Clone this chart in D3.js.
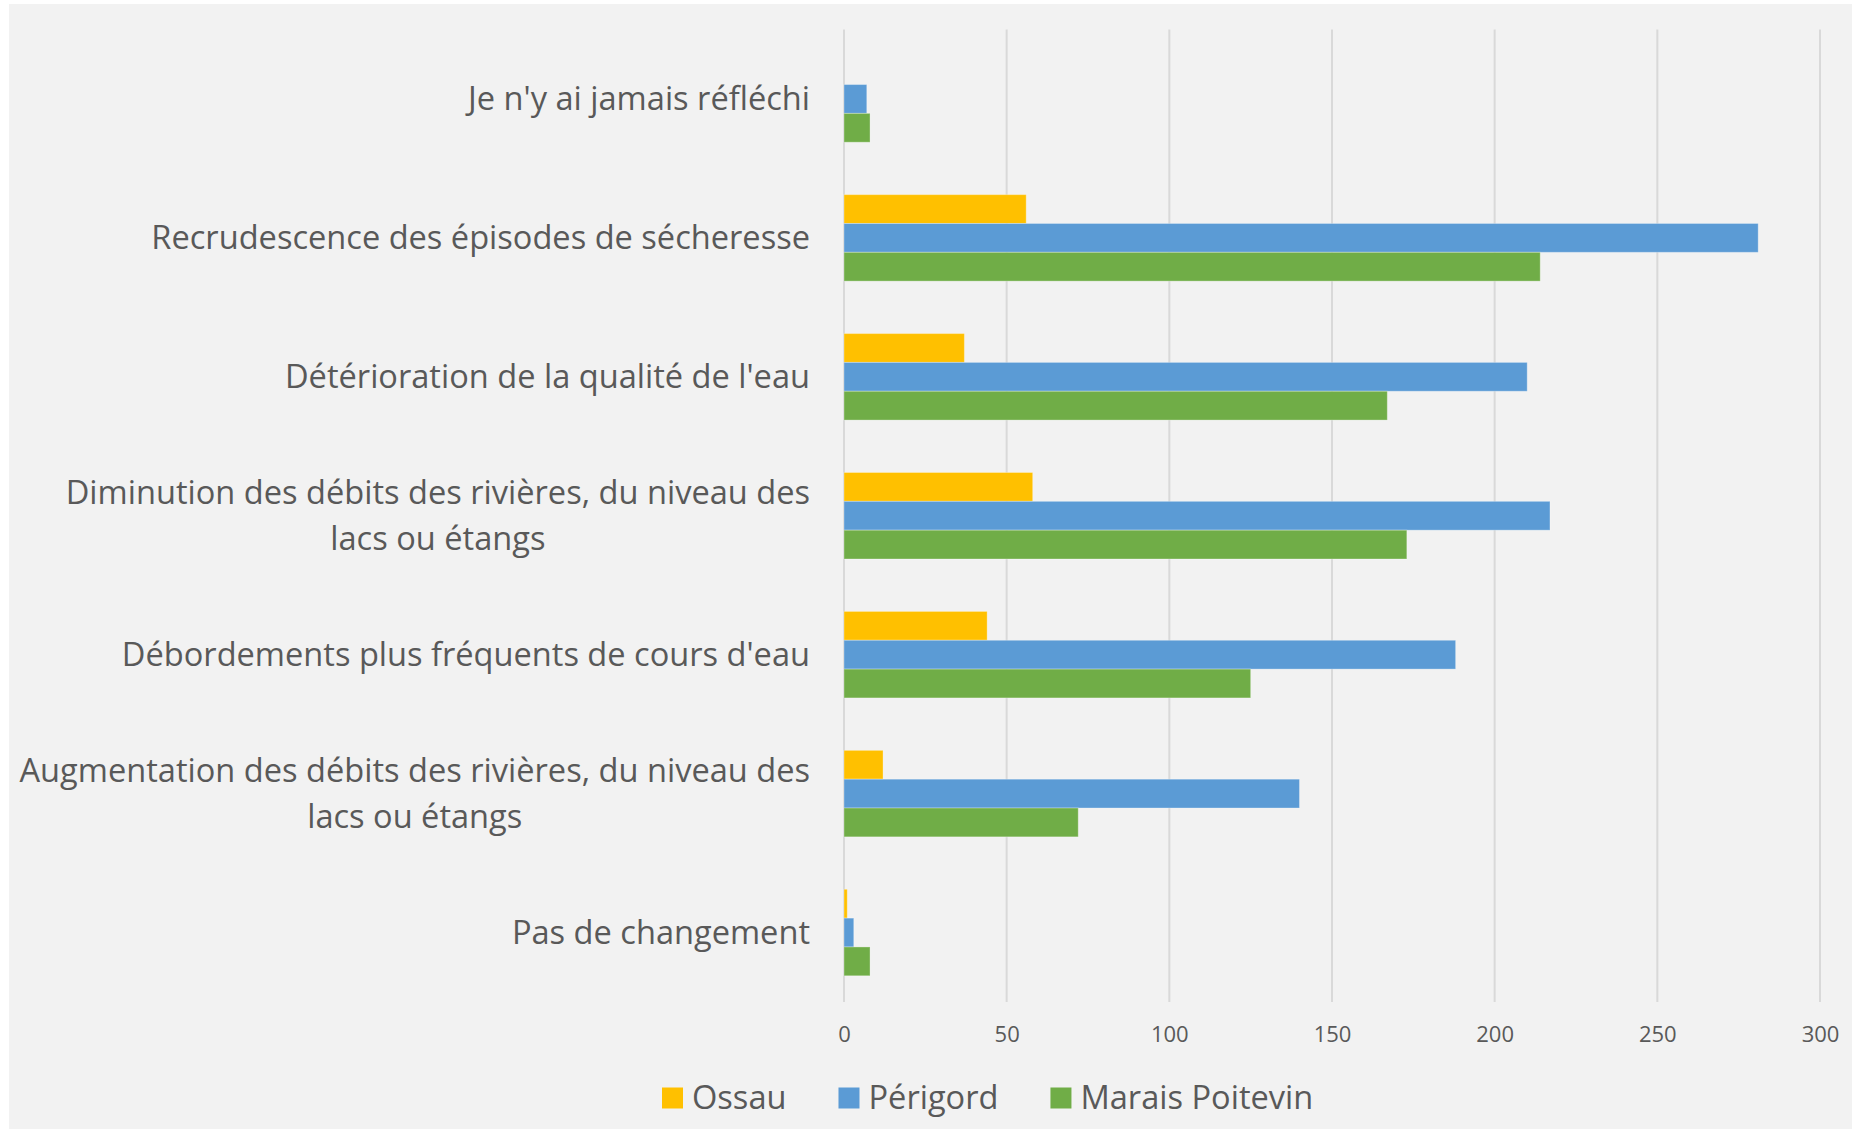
<!DOCTYPE html>
<html>
<head>
<meta charset="utf-8">
<script src="https://cdn.jsdelivr.net/npm/d3@7"></script>
<style>
  html, body { margin: 0; padding: 0; background: #ffffff; }
  svg { display: block; }
</style>
</head>
<body>
<svg id="chart" width="1852" height="1129"></svg>
<script>
// ---- data ----
const categories = [
  ["Je n'y ai jamais réfléchi"],
  ["Recrudescence des épisodes de sécheresse"],
  ["Détérioration de la qualité de l'eau"],
  ["Diminution des débits des rivières, du niveau des", "lacs ou étangs"],
  ["Débordements plus fréquents de cours d'eau"],
  ["Augmentation des débits des rivières, du niveau des", "lacs ou étangs"],
  ["Pas de changement"]
];
const seriesNames = ["Ossau", "Périgord", "Marais Poitevin"];
const ossau    = [0, 56, 37, 58, 44, 12, 1];
const perigord = [7, 281, 210, 217, 188, 140, 3];
const marais   = [8, 214, 167, 173, 125, 72, 8];
const xTicks = [0, 50, 100, 150, 200, 250, 300];

const seriesValues = [ossau, perigord, marais];
const colors = ["#FFC000", "#5B9BD5", "#70AD47"];
const textColor = "#595959";
const font = "'Open Sans', sans-serif";

// ---- layout ----
const W = 1852, H = 1129;
const plot = { left: 844, right: 1820, top: 29.5, bottom: 1002 };
const labelRight = 810;

const svg = d3.select("#chart");

svg.append("rect")
  .attr("x", 9).attr("y", 4)
  .attr("width", W - 9).attr("height", H - 4)
  .attr("fill", "#F2F2F2");

const catKeys = categories.map((c, i) => i);
const x = d3.scaleLinear().domain([0, 300]).range([plot.left, plot.right]);
const y = d3.scaleBand().domain(catKeys).range([plot.top, plot.bottom])
  .paddingInner(0.3775).paddingOuter(0.18875);
const ySub = d3.scaleBand().domain(d3.range(seriesNames.length)).range([0, y.bandwidth()]).padding(0);

// gridlines
svg.append("g").selectAll("line").data(xTicks).join("line")
  .attr("x1", d => x(d)).attr("x2", d => x(d))
  .attr("y1", plot.top).attr("y2", plot.bottom)
  .attr("stroke", "#D9D9D9").attr("stroke-width", 2);

// x tick labels via axis
const xAxis = d3.axisBottom(x).tickValues(xTicks).tickSize(0).tickPadding(0);
const gx = svg.append("g").attr("transform", `translate(0, ${plot.bottom})`).call(xAxis);
gx.select(".domain").remove();
gx.selectAll("text")
  .attr("y", 32).attr("dy", "0.35em")
  .attr("fill", textColor)
  .style("font-family", font).style("font-size", "22px");

// bars
const groups = svg.append("g").selectAll("g").data(catKeys).join("g")
  .attr("transform", d => `translate(0, ${y(d)})`);
groups.selectAll("rect")
  .data(ci => seriesValues.map((vals, si) => ({ si, v: vals[ci] })))
  .join("rect")
  .attr("x", x(0))
  .attr("y", d => ySub(d.si))
  .attr("width", d => x(d.v) - x(0))
  .attr("height", ySub.bandwidth())
  .attr("fill", d => colors[d.si])
  .attr("stroke", "#ffffff").attr("stroke-opacity", d => d.v > 0 ? 0.3 : 0).attr("stroke-width", 1);

// category labels
const lineH = 46;
const labelG = svg.append("g");
categories.forEach((lines, i) => {
  const cy = y(i) + y.bandwidth() / 2;
  const t = labelG.append("text")
    .attr("fill", textColor)
    .style("font-family", font).style("font-size", "32.6px")
    .attr("text-anchor", "middle");
  const tspans = lines.map((ln, k) =>
    t.append("tspan").text(ln)
      .attr("y", cy + (k - (lines.length - 1) / 2) * lineH)
      .attr("dy", "0.35em"));
  const widths = tspans.map(ts => ts.node().getComputedTextLength());
  const maxW = d3.max(widths);
  const cx = labelRight - maxW / 2;
  tspans.forEach(ts => ts.attr("x", cx));
});

// legend
const legend = svg.append("g").attr("transform", "translate(662, 1098)");
let lx = 0;
seriesNames.forEach((name, i) => {
  legend.append("rect")
    .attr("x", lx).attr("y", -10.5)
    .attr("width", 21).attr("height", 21)
    .attr("fill", colors[i]);
  const t = legend.append("text")
    .attr("x", lx + 30).attr("y", 0).attr("dy", "0.35em")
    .attr("fill", textColor)
    .style("font-family", font).style("font-size", "32.6px")
    .text(name);
  lx += 30 + t.node().getComputedTextLength() + 52;
});
</script>
</body>
</html>
